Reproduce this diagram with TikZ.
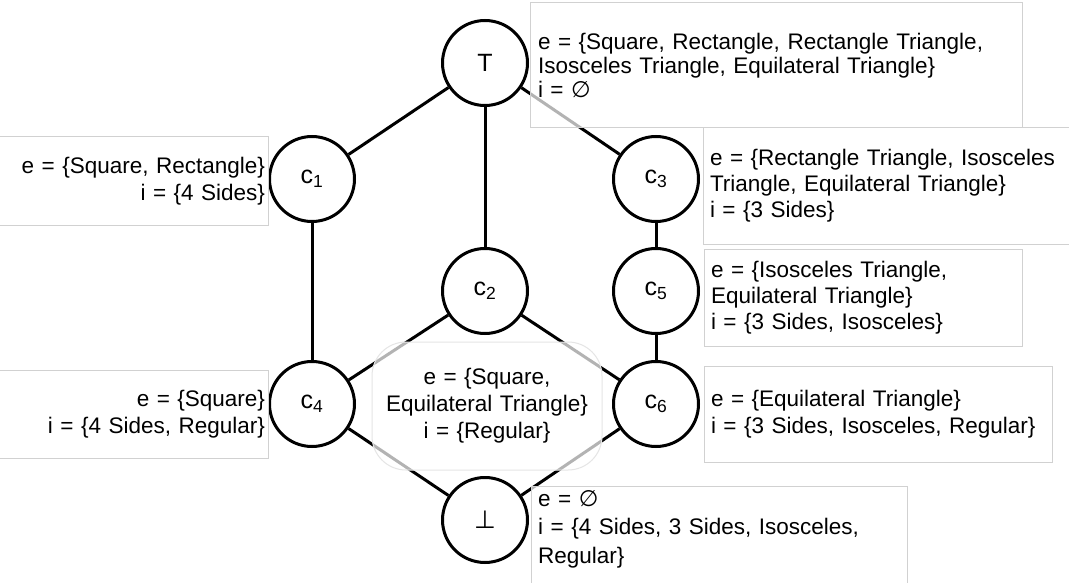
\documentclass[tikz,border=0pt]{standalone}
\usepackage{fontspec}
\setmainfont{Liberation Sans}
\newfontfamily\dejavu{DejaVu Sans}
\newcommand{\myempty}{{\dejavu ∅}}
\begin{document}
\begin{tikzpicture}[x=1pt,y=-1pt,
  every node/.style={font=\fontsize{22.5}{27}\selectfont},
  vtx/.style={circle, draw=black, line width=3pt, fill=white, minimum size=85pt, inner sep=0pt, font=\fontsize{25}{28}\selectfont},
  edge/.style={line width=3pt, black},
  lbl/.style={draw=black!18, line width=1pt, fill=white, fill opacity=0.7, text opacity=1, inner sep=0pt},
]
\useasboundingbox (0,0) rectangle (1069,583);
\fill[white] (0,0) rectangle (1069,583);

\node[vtx] (T) at (485,63) {T};
\node[vtx] (c1) at (312,179) {c\textsubscript{1}};
\node[vtx] (c3) at (656,179) {c\textsubscript{3}};
\node[vtx] (c2) at (485,291) {c\textsubscript{2}};
\node[vtx] (c5) at (656,291) {c\textsubscript{5}};
\node[vtx] (c4) at (312,404) {c\textsubscript{4}};
\node[vtx] (c6) at (656,404) {c\textsubscript{6}};
\node[vtx] (B) at (485,520) {{\dejavu ⊥}};

\draw[edge] (T) -- (c1);
\draw[edge] (T) -- (c2);
\draw[edge] (T) -- (c3);
\draw[edge] (c1) -- (c4);
\draw[edge] (c2) -- (c4);
\draw[edge] (c2) -- (c6);
\draw[edge] (c3) -- (c5);
\draw[edge] (c5) -- (c6);
\draw[edge] (c4) -- (B);
\draw[edge] (c6) -- (B);

\node[lbl, minimum width=492pt, minimum height=125pt, text width=476pt, align=left,
      font=\fontsize{22.5}{24}\selectfont] (lT) at (776,65.5)
 {e = \{Square, Rectangle, Rectangle Triangle,\\ Isosceles Triangle, Equilateral Triangle\}\\ i = \myempty};
\node[lbl, minimum width=272pt, minimum height=88pt, text width=266pt, align=right] (l1) at (132,181)
 {e = \{Square, Rectangle\}\\ i = \{4 Sides\}};
\node[lbl, minimum width=377pt, minimum height=116pt, text width=363pt, align=left,
      font=\fontsize{22.5}{26}\selectfont] (l3) at (891.5,186)
 {e = \{Rectangle Triangle, Isosceles\\ Triangle, Equilateral Triangle\}\\ i = \{3 Sides\}};
\node[lbl, minimum width=318pt, minimum height=97pt, text width=304pt, align=left,
      font=\fontsize{22.5}{26}\selectfont] (l5) at (863,297.5)
 {e = \{Isosceles Triangle,\\ Equilateral Triangle\}\\ i = \{3 Sides, Isosceles\}};
\node[lbl, minimum width=348pt, minimum height=96pt, text width=334pt, align=left] (l6) at (878,414)
 {e = \{Equilateral Triangle\}\\ i = \{3 Sides, Isosceles, Regular\}};
\node[lbl, minimum width=272pt, minimum height=88pt, text width=266pt, align=right] (l4) at (132,414)
 {e = \{Square\}\\ i = \{4 Sides, Regular\}};
\node[lbl, draw=black!10, rounded corners=34pt, minimum width=230pt, minimum height=128pt, text width=220pt, align=center] (l2) at (487,406)
 {e = \{Square,\\ Equilateral Triangle\}\\ i = \{Regular\}};
\node[lbl, anchor=north west, minimum width=376pt, minimum height=114pt] (lBbox) at (531,486) {};
\node[anchor=north west, align=left, text width=360pt, inner sep=0pt,
      font=\fontsize{22.5}{28.5}\selectfont] (lB) at (538,490)
 {e = \myempty\\ i = \{4 Sides, 3 Sides, Isosceles,\\ Regular\}};
\end{tikzpicture}
\end{document}
